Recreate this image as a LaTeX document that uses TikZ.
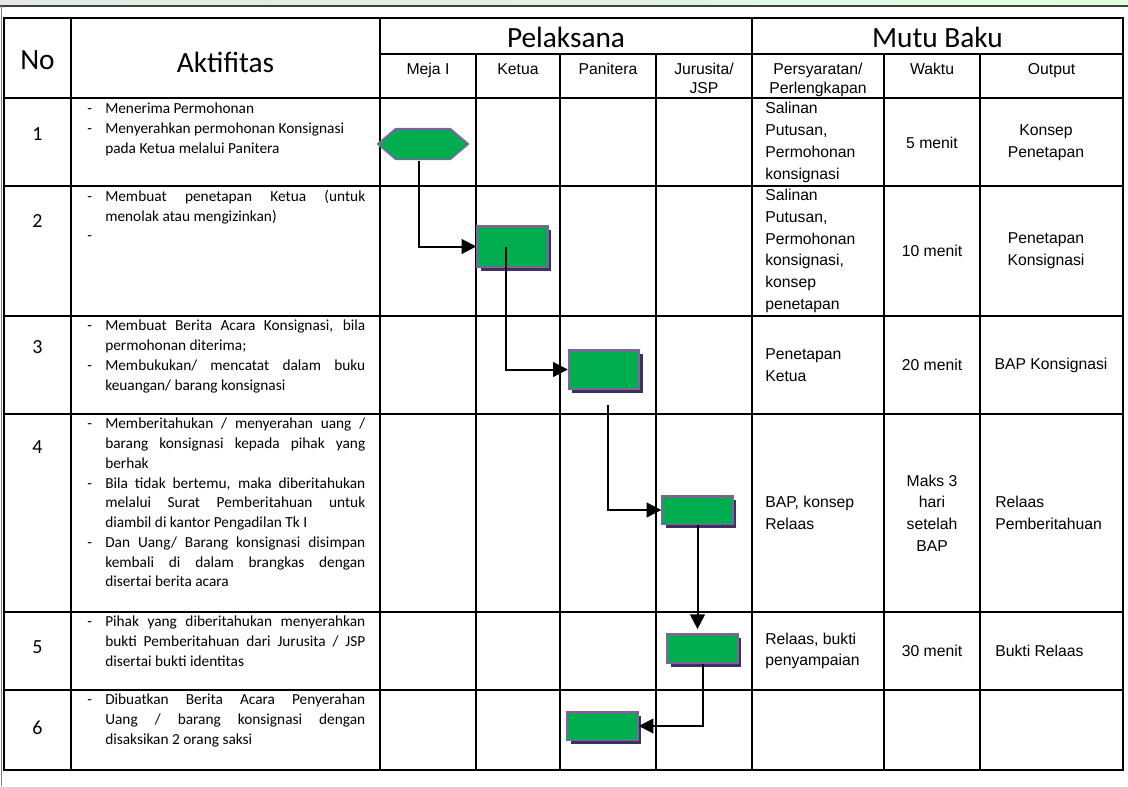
\documentclass[tikz,border=0pt]{standalone}
\usepackage{fontspec}
\setmainfont{Liberation Sans}
\newfontfamily\calibri{Carlito}
\usetikzlibrary{arrows.meta,shadows,calc}

\definecolor{boxgreen}{HTML}{00AD4F}
\definecolor{boxedge}{HTML}{7F63A1}
\definecolor{boxshade}{HTML}{3D3358}

\hyphenpenalty=10000
\tolerance=10000

% one dashed item of the Aktifitas column
\newcommand{\akt}[1]{\hangindent=13.5pt\hangafter=1\noindent\makebox[13.5pt][l]{-}#1\par}

\begin{document}
\begin{tikzpicture}[
    x=0.75pt, y=-0.75pt,
    >={Triangle[length=11pt,width=11pt]},
    grid/.style={
        line width=1.5pt
    },
    bigtitle/.style={
        font=\calibri\fontsize{22}{26}\selectfont,
        inner sep=0pt
    },
    colhead/.style={
        font=\fontsize{11.8}{14}\selectfont,
        align=center,
        anchor=north,
        inner sep=0pt,
        execute at begin node=\rule{0pt}{8.6pt}
    },
    rownum/.style={
        font=\calibri\fontsize{15}{17}\selectfont,
        inner sep=0pt
    },
    aktifitas/.style={
        font=\calibri\fontsize{11.5}{14.8}\selectfont,
        text width=208.5pt,
        align=justify,
        anchor=north west,
        inner sep=0pt
    },
    mutu/.style={
        font=\fontsize{11.8}{16.3}\selectfont,
        inner sep=0pt
    },
    stepbox/.style={
        rectangle,
        fill=boxgreen,
        draw=boxedge,
        line width=1.3pt,
        minimum width=53pt,
        inner sep=0pt,
        drop shadow={shadow xshift=2.5pt, shadow yshift=-3pt, fill=boxshade, opacity=1}
    },
    hexframe/.style={
        rectangle,
        minimum width=67.5pt,
        minimum height=22.5pt,
        inner sep=0pt
    },
    flow/.style={
        ->,
        line width=1.5pt
    }
]
\useasboundingbox (0,0) rectangle (1128,786);

% ==================================================
% Page edge
% ==================================================

\shade[left color=green!10!gray!20, middle color=yellow!22, right color=green!12]
    (0,0) rectangle (1128,5);
\draw[line width=1.5pt, black!75] (0,6) -- (1128,6);
\draw[line width=1pt, gray] (1.5,6) -- (1.5,786);

% ==================================================
% Table grid
% ==================================================

\draw[grid] (4,18) rectangle (1123,770);
\draw[grid] (380,54) -- (1123,54);
\foreach \y in {98,186,316,414,612,690}
    \draw[grid] (4,\y) -- (1123,\y);
\foreach \x in {71,380,752}
    \draw[grid] (\x,18) -- (\x,770);
\foreach \x in {476,560,656,884,980}
    \draw[grid] (\x,54) -- (\x,770);

% ==================================================
% Headings
% ==================================================

\node[bigtitle] (hno) at (37.5,60) {No};
\node[bigtitle] (hakt) at (225.5,62) {Aktifitas};
\node[bigtitle] (hpel) at (566,37) {Pelaksana};
\node[bigtitle] (hmutu) at (937.5,37) {Mutu Baku};

\node[colhead] (hmeja) at (428,63) {Meja I};
\node[colhead] (hketua) at (518,63) {Ketua};
\node[colhead] (hpanitera) at (608,63) {Panitera};
\node[colhead] (hjsp) at (704,63) {Jurusita/\\JSP};
\node[colhead] (hsyarat) at (818,63) {Persyaratan/\\Perlengkapan};
\node[colhead] (hwaktu) at (932,63) {Waktu};
\node[colhead] (houtput) at (1051.5,63) {Output};

% ==================================================
% Row numbers
% ==================================================

\node[rownum] (n1) at (37.5,134) {1};
\node[rownum] (n2) at (37.5,221) {2};
\node[rownum] (n3) at (37.5,347) {3};
\node[rownum] (n4) at (37.5,447) {4};
\node[rownum] (n5) at (37.5,647) {5};
\node[rownum] (n6) at (37.5,728) {6};

% ==================================================
% Aktifitas
% ==================================================

\node[aktifitas] (a1) at (87,103) {%
    \akt{Menerima Permohonan}
    \akt{Menyerahkan permohonan Konsignasi\newline pada Ketua melalui Panitera}};

\node[aktifitas] (a2) at (87,190) {%
    \akt{Membuat penetapan Ketua (untuk\linebreak menolak atau mengizinkan)}
    \akt{}};

\node[aktifitas] (a3) at (87,320) {%
    \akt{Membuat Berita Acara Konsignasi, bila\linebreak permohonan diterima;}
    \akt{Membukukan/ mencatat dalam buku\linebreak keuangan/ barang konsignasi}};

\node[aktifitas] (a4) at (87,418) {%
    \akt{Memberitahukan / menyerahan uang /\linebreak barang konsignasi kepada pihak yang\linebreak berhak}
    \akt{Bila tidak bertemu, maka diberitahukan\linebreak melalui Surat Pemberitahuan untuk\linebreak diambil di kantor Pengadilan Tk I}
    \akt{Dan Uang/ Barang konsignasi disimpan\linebreak kembali di dalam brangkas dengan\linebreak disertai berita acara}};

\node[aktifitas] (a5) at (87,616) {%
    \akt{Pihak yang diberitahukan menyerahkan\linebreak bukti Pemberitahuan dari Jurusita / JSP\linebreak disertai bukti identitas}};

\node[aktifitas] (a6) at (87,694) {%
    \akt{Dibuatkan Berita Acara Penyerahan\linebreak Uang / barang konsignasi dengan\linebreak disaksikan 2 orang saksi}};

% ==================================================
% Mutu Baku
% ==================================================

% Persyaratan/ Perlengkapan
\node[mutu, anchor=west, align=left] (s1) at (765,142.5)
    {Salinan\\Putusan,\\Permohonan\\konsignasi};
\node[mutu, anchor=west, align=left] (s2) at (765,251)
    {Salinan\\Putusan,\\Permohonan\\konsignasi,\\konsep\\penetapan};
\node[mutu, anchor=west, align=left] (s3) at (765,365)
    {Penetapan\\Ketua};
\node[mutu, anchor=west, align=left] (s4) at (765,513)
    {BAP, konsep\\Relaas};
\node[mutu, anchor=west, align=left] (s5) at (765,651)
    {Relaas, bukti\\penyampaian};

% Waktu
\node[mutu] (w1) at (932,142.5) {5 menit};
\node[mutu] (w2) at (932,251) {10 menit};
\node[mutu] (w3) at (932,365) {20 menit};
\node[mutu, align=center] (w4) at (932,513) {Maks 3\\hari\\setelah\\BAP};
\node[mutu] (w5) at (932,651) {30 menit};

% Output
\node[mutu, align=center] (o1) at (1046,142.5) {Konsep\\Penetapan};
\node[mutu, align=center] (o2) at (1046,251) {Penetapan\\Konsignasi};
\node[mutu] (o3) at (1051,365) {BAP Konsignasi};
\node[mutu, anchor=west, align=left] (o4) at (995,513) {Relaas\\Pemberitahuan};
\node[mutu, anchor=west] (o5) at (995,651) {Bukti Relaas};

% ==================================================
% Flow
% ==================================================

% start hexagon, drawn on the frame of its node
\node[hexframe] (mulai) at (423,144) {};
\fill[boxshade, shift={(2.5pt,-2.5pt)}]
    (mulai.west) -- ($(mulai.north west)+(18,0)$) -- ($(mulai.north east)+(-18,0)$)
    -- (mulai.east) -- ($(mulai.south east)+(-18,0)$) -- ($(mulai.south west)+(18,0)$) -- cycle;
\filldraw[fill=boxgreen, draw=boxedge, line width=1.3pt, line join=round]
    (mulai.west) -- ($(mulai.north west)+(18,0)$) -- ($(mulai.north east)+(-18,0)$)
    -- (mulai.east) -- ($(mulai.south east)+(-18,0)$) -- ($(mulai.south west)+(18,0)$) -- cycle;

\node[stepbox, minimum height=30.75pt] (ketua) at (512.5,246.5) {};
\node[stepbox, minimum height=29.25pt] (panitera) at (604,369.5) {};
\node[stepbox, minimum height=21pt] (jurusita) at (697.5,510) {};
\node[stepbox, minimum height=21.75pt] (bukti) at (702.5,648.5) {};
\node[stepbox, minimum height=21pt] (saksi) at (602.5,726) {};

\draw[flow] ($(mulai.south)+(-4,2)$) |- (ketua.west);
\draw[flow] ($(ketua.center)+(-7,0)$) |- (panitera.west);
\draw[flow] ($(panitera.south)+(4,15)$) |- (jurusita.west);
\draw[flow, shorten >=3pt] (jurusita.south) -- (jurusita.south |- bukti.north);
\draw[flow] (bukti.south) |- (saksi.east);

\end{tikzpicture}
\end{document}
